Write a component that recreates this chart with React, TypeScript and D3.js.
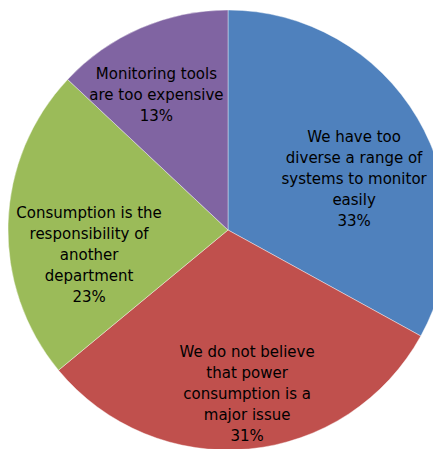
import React from "react";
import * as d3 from "d3";

const categories = [
  "We have too diverse a range of systems to monitor easily",
  "We do not believe that power consumption is a major issue",
  "Consumption is the responsibility of another department",
  "Monitoring tools are too expensive",
];
const values = [33, 31, 23, 13];
const labelLines = [
  ["We have too", "diverse a range of", "systems to monitor", "easily", "33%"],
  ["We do not believe", "that power", "consumption is a", "major issue", "31%"],
  ["Consumption is the", "responsibility of", "another", "department", "23%"],
  ["Monitoring tools", "are too expensive", "13%"],
];
const colors = ["#4F81BD", "#C0504D", "#9BBB59", "#8064A2"];
const labelOffsets: [number, number][] = [
  [-3, 25],
  [5, 15],
  [11, 30],
  [-12, 3],
];

const W = 433;
const H = 449;
const cx = 228;
const cy = 230;
const R = 220;
const lineH = 21;

export default function App() {
  const pie = d3.pie<number>().sort(null).value((d) => d)(values);
  const arc = d3.arc<d3.PieArcDatum<number>>().innerRadius(0).outerRadius(R);
  const labelArc = d3.arc<d3.PieArcDatum<number>>().innerRadius(150).outerRadius(150);
  return (
    <svg
      width={W}
      height={H}
      style={{ position: "absolute", left: 0, top: 0, background: "#fff", overflow: "hidden" }}
    >
      <g transform={`translate(${cx},${cy})`}>
        {pie.map((p, i) => (
          <path key={categories[i]} d={arc(p) || ""} fill={colors[i]} stroke="#fff" strokeWidth={0.4} />
        ))}
        {pie.map((p, i) => {
          const [x, y] = labelArc.centroid(p);
          const lines = labelLines[i];
          const lx = x + labelOffsets[i][0];
          const ly = y + labelOffsets[i][1] - ((lines.length - 1) * lineH) / 2;
          return (
            <text
              key={"l" + i}
              x={lx}
              y={ly}
              textAnchor="middle"
              dominantBaseline="central"
              fontFamily="DejaVu Sans, Verdana, sans-serif"
              fontSize={15}
              fill="#000"
            >
              {lines.map((t, j) => (
                <tspan key={j} x={lx} y={ly + j * lineH}>
                  {t}
                </tspan>
              ))}
            </text>
          );
        })}
      </g>
    </svg>
  );
}
